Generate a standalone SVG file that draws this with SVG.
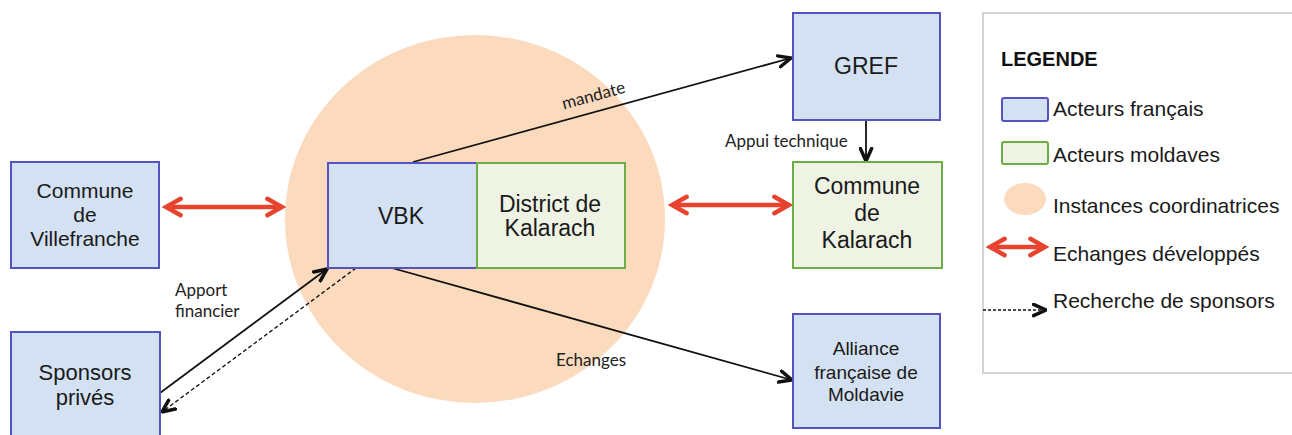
<svg xmlns="http://www.w3.org/2000/svg" width="1292" height="435" viewBox="0 0 1292 435">
<style>
.fr{fill:#D3E1F2;stroke:#5552C2;stroke-width:2}
.md{fill:#EEF3E4;stroke:#6AAE45;stroke-width:2}
.t{font-family:"Liberation Sans",Arial,sans-serif;fill:#1a1a1a;text-anchor:middle}
.lab{font-family:Lato,"Liberation Sans",sans-serif;font-size:17px;fill:#222}
.lg{font-family:"Liberation Sans",Arial,sans-serif;font-size:21px;fill:#1a1a1a}
.blk{stroke:#111;stroke-width:1.8;fill:none}
.red{stroke:#E8432F;stroke-width:4.5;fill:none}
</style>
<defs>
<marker id="ahb" viewBox="0 0 12 12" refX="11" refY="6" markerWidth="15" markerHeight="15" markerUnits="userSpaceOnUse" orient="auto">
<path d="M1,1.5 L11,6 L1,10.5" fill="none" stroke="#111" stroke-width="2.8" stroke-linecap="round"/>
</marker>
<marker id="rh" viewBox="0 0 12 12" refX="10" refY="6" markerWidth="22" markerHeight="22" markerUnits="userSpaceOnUse" orient="auto-start-reverse">
<path d="M2,1.5 L10,6 L2,10.5" fill="none" stroke="#E8432F" stroke-width="2.4" stroke-linecap="round"/>
</marker>
</defs>
<rect width="1292" height="435" fill="#fff"/>
<ellipse id="instance" cx="475" cy="219" rx="190" ry="184" fill="#FBDABD"/>
<g id="legend">
<rect x="983" y="13" width="320" height="360" fill="#fff" stroke="#d4d4d4" stroke-width="2"/>
<text x="1001" y="66" font-family="Liberation Sans,Arial,sans-serif" font-size="20" font-weight="bold" fill="#111">LEGENDE</text>
<rect x="1002" y="98" width="46" height="23" rx="2" class="fr"/>
<text x="1053" y="116" class="lg">Acteurs français</text>
<rect x="1002" y="142" width="46" height="22" rx="2" class="md"/>
<text x="1053" y="162" class="lg">Acteurs moldaves</text>
<ellipse cx="1025" cy="199" rx="21" ry="16" fill="#FBDABD"/>
<text x="1053" y="213" class="lg">Instances coordinatrices</text>
<line x1="990" y1="247" x2="1045" y2="247" class="red" marker-start="url(#rh)" marker-end="url(#rh)"/>
<text x="1053" y="261" class="lg">Echanges développés</text>
<line x1="983" y1="310" x2="1046" y2="310" stroke="#111" stroke-width="1.3" stroke-dasharray="3,2" marker-end="url(#ahb)"/>
<text x="1053" y="308" class="lg">Recherche de sponsors</text>
</g>
<g id="connectors">
<line x1="413" y1="162" x2="791" y2="58" class="blk" marker-end="url(#ahb)"/>
<line x1="866" y1="120" x2="866" y2="161" class="blk" marker-end="url(#ahb)"/>
<line x1="392" y1="268" x2="792" y2="380" class="blk" marker-end="url(#ahb)"/>
<line x1="160" y1="393" x2="327" y2="269" class="blk" marker-end="url(#ahb)"/>
<line x1="356" y1="268" x2="162" y2="412" stroke="#111" stroke-width="1.3" stroke-dasharray="4,2.5" marker-end="url(#ahb)"/>
<line x1="166" y1="207" x2="282" y2="207" class="red" marker-start="url(#rh)" marker-end="url(#rh)"/>
<line x1="672" y1="205" x2="789" y2="205" class="red" marker-start="url(#rh)" marker-end="url(#rh)"/>
<text x="595" y="101" class="lab" text-anchor="middle" transform="rotate(-15.3 595 101)">mandate</text>
<text x="725" y="147" class="lab">Appui technique</text>
<text x="591" y="366" class="lab" text-anchor="middle">Echanges</text>
<text x="175" y="296" class="lab">Apport</text>
<text x="175" y="317" class="lab">financier</text>
</g>
<g id="villefranche">
<rect x="11" y="162" width="148" height="106" class="fr"/>
<text class="t" font-size="21"><tspan x="85" y="198">Commune</tspan><tspan x="85" y="222">de</tspan><tspan x="85" y="246">Villefranche</tspan></text>
</g>
<g id="sponsors">
<rect x="11" y="332" width="149" height="115" class="fr"/>
<text class="t" font-size="22"><tspan x="85" y="380">Sponsors</tspan><tspan x="85" y="405">privés</tspan></text>
</g>
<g id="vbk">
<rect x="328" y="163" width="149" height="105" class="fr"/>
<text x="401" y="224" class="t" font-size="23">VBK</text>
</g>
<g id="district">
<rect x="477" y="163" width="148" height="105" class="md"/>
<text class="t" font-size="23"><tspan x="550" y="212">District de</tspan><tspan x="550" y="236">Kalarach</tspan></text>
</g>
<g id="gref">
<rect x="793" y="13" width="147" height="107" class="fr"/>
<text x="866" y="74" class="t" font-size="23">GREF</text>
</g>
<g id="kalarach">
<rect x="793" y="162" width="149" height="106" class="md"/>
<text class="t" font-size="23"><tspan x="867" y="194">Commune</tspan><tspan x="867" y="221">de</tspan><tspan x="867" y="248">Kalarach</tspan></text>
</g>
<g id="alliance">
<rect x="793" y="314" width="147" height="114" class="fr"/>
<text class="t" font-size="19"><tspan x="866" y="355">Alliance</tspan><tspan x="866" y="379">française de</tspan><tspan x="866" y="401">Moldavie</tspan></text>
</g>
</svg>
